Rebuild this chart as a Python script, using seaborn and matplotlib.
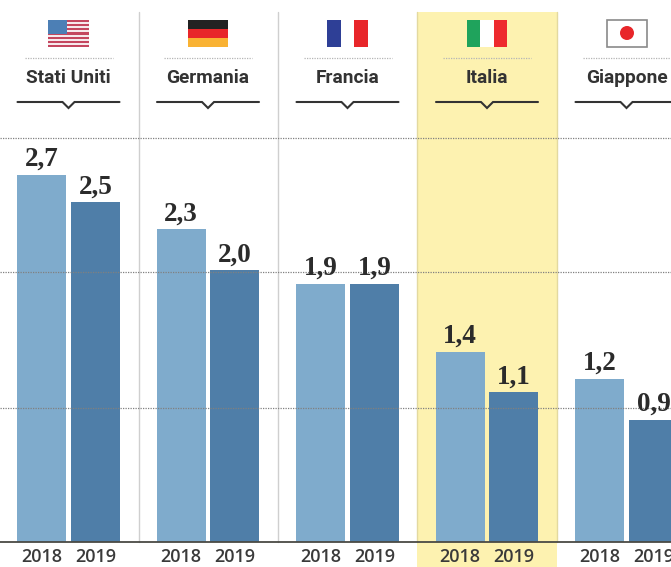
import matplotlib
matplotlib.use("Agg")
import matplotlib.pyplot as plt
from matplotlib.patches import Rectangle, Circle
import numpy as np
import pandas as pd
import seaborn as sns

countries = ["Stati Uniti", "Germania", "Francia", "Italia", "Giappone"]
values_2018 = [2.7, 2.3, 1.9, 1.4, 1.2]
values_2019 = [2.5, 2.0, 1.9, 1.1, 0.9]
years = ["2018", "2019"]
grid_levels = [0.985, 1.985, 2.97]

W, H = 671, 567
LIGHT, DARK = "#7FABCC", "#4F7EA8"
INK = "#333333"

df = pd.DataFrame({
    "paese": countries * 2,
    "anno": [years[0]] * 5 + [years[1]] * 5,
    "valore": values_2018 + values_2019,
})

sns.set_theme(style="white")
fig = plt.figure(figsize=(W / 100, H / 100), dpi=100, facecolor="white")

# Furniture layer in pixel units: highlight band, separators, flags and headers
bg = fig.add_axes([0, 0, 1, 1], zorder=0)
bg.set_xlim(0, W)
bg.set_ylim(H, 0)
bg.axis("off")

bg.add_patch(Rectangle((417, 12), 140, 555, fc="#FDF2B0", ec="none"))
for x in (417, 557):
    bg.plot([x, x], [12, 542], color="#E3D9A0", lw=1)
for x in (138.5, 278):
    bg.plot([x, x], [12, 542], color="#CFCFCF", lw=1)


def flag_stripes(x, y, w, h, colours, vertical=False):
    n = len(colours)
    for i, c in enumerate(colours):
        if vertical:
            bg.add_patch(Rectangle((x + i * w / n, y), w / n, h, fc=c, ec="none"))
        else:
            bg.add_patch(Rectangle((x, y + i * h / n), w, h / n, fc=c, ec="none"))


# Flags
us = ["#C4475F" if i % 2 == 0 else "#F6E9EC" for i in range(13)]
flag_stripes(48, 20, 41, 27, us)
bg.add_patch(Rectangle((48, 20), 19, 14, fc="#4C7FB5", ec="none"))
flag_stripes(188, 20, 40, 27, ["#222222", "#E8262A", "#F9B233"])
flag_stripes(327, 20, 41, 27, ["#2E3F96", "#FFFFFF", "#E8262A"], vertical=True)
flag_stripes(467, 20, 40, 27, ["#1FA35C", "#FFFFFF", "#EE2A2E"], vertical=True)
bg.add_patch(Rectangle((606.5, 19.5), 40, 27, fc="white", ec="#8A8A8A", lw=1.2))
bg.add_patch(Circle((627, 33), 7, fc="#E8262A", ec="none"))

# Country headers: dotted rule, name, and chevron rule
for i, name in enumerate(countries):
    cx = 68.5 + 139.5 * i
    bg.plot([cx - 44, cx + 44], [58, 58], color="#B5B5B5", lw=0.9, ls=(0, (1, 1)))
    bg.text(cx, 83, name, ha="center", va="baseline", fontsize=13.8,
            family="Roboto", weight="bold", color=INK)
    bg.plot([cx - 51, cx - 6, cx, cx + 6, cx + 51], [102, 102, 108, 102, 102],
            color=INK, lw=1.5, solid_joinstyle="miter")

# Bars on the value scale
ax = fig.add_axes([0, 0, 1, 1], zorder=1)
ax.patch.set_alpha(0)
sns.barplot(data=df, x="paese", y="valore", hue="anno", order=countries,
            hue_order=years, palette=[LIGHT, DARK], width=0.774, gap=0.0926,
            saturation=1, legend=False, ax=ax, zorder=2, linewidth=0)
ax.set_xlim(-68.5 / 139.5, (W - 68.5) / 139.5)
ax.set_ylim(-(H - 542) / 136, 542 / 136)
ax.set_xlabel("")
ax.set_ylabel("")
ax.set_yticks([])
for s in ax.spines.values():
    s.set_visible(False)

# Dotted reference levels above the bars, solid baseline
for lv in grid_levels:
    ax.axhline(lv, color="#808080", lw=0.9, ls=(0, (1, 1)), zorder=3)
ax.axhline(0, color="#4A4A44", lw=1.3, zorder=4)

# Value labels with decimal comma
for container in ax.containers:
    labels = [f"{b.get_height():.1f}".replace(".", ",") for b in container]
    ax.bar_label(container, labels=labels, padding=2, fontsize=19.5,
                 family="Liberation Serif", weight="bold", color="#2B2B2B", zorder=5)

# Year labels beneath each bar, placed as tick labels on the category axis
centres, year_labels = [], []
for yr, container in zip(years, ax.containers):
    for b in container:
        centres.append(b.get_x() + b.get_width() / 2)
        year_labels.append(yr)
ax.set_xticks(centres, year_labels, fontsize=13, family="Open Sans",
              weight="semibold", color="#3A3A3A")
ax.tick_params(axis="x", length=0, pad=-13.5, direction="in", labelbottom=True)

fig.savefig("out.png", dpi=100)
